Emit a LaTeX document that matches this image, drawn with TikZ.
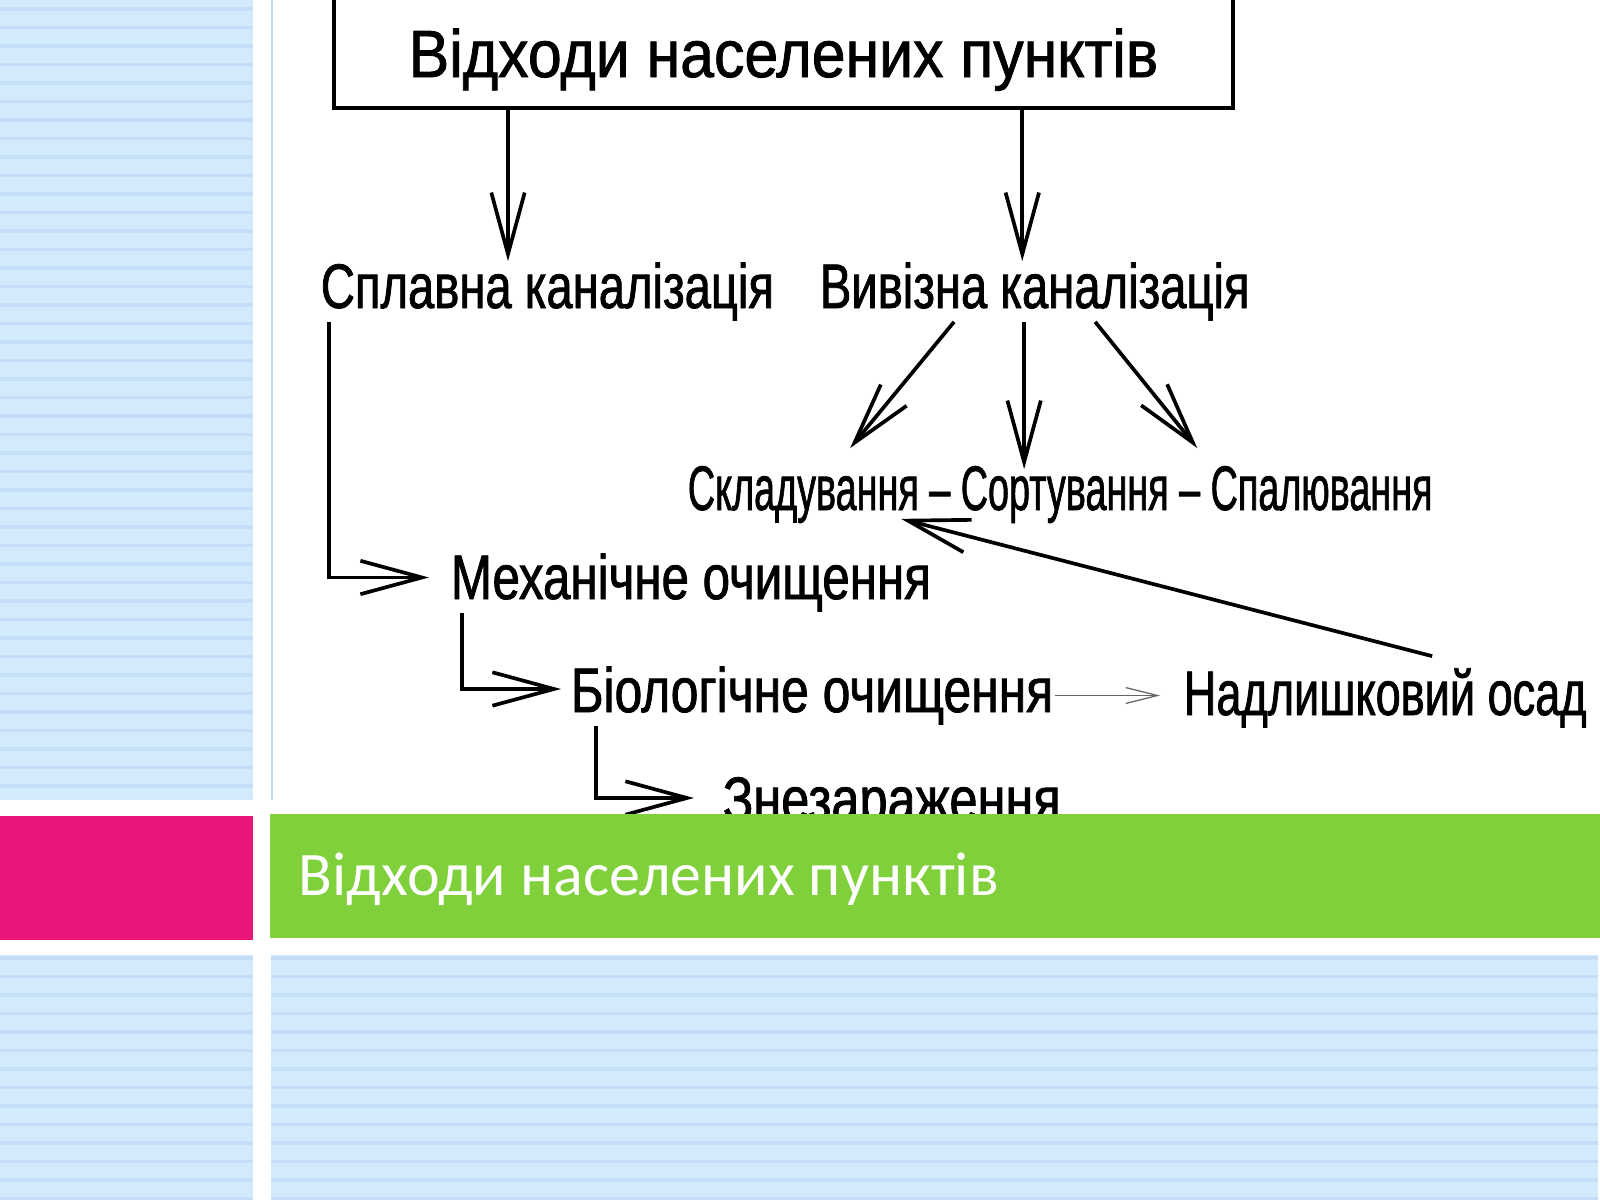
\documentclass[tikz,border=0pt]{standalone}
\usepackage{fontspec}
\setmainfont{Carlito}
\newfontfamily\gost[FakeStretch=0.75,FakeBold=1.2]{Liberation Sans}
\newfontfamily\gostwide[FakeStretch=0.91,FakeBold=1.2]{Liberation Sans}
\usetikzlibrary{arrows.meta}
\definecolor{panelblue}{HTML}{D3E9FC}
\definecolor{stripeblue}{HTML}{C3DEF6}
\definecolor{dividerblue}{HTML}{BCDBF3}
\definecolor{pinkbar}{HTML}{E9177A}
\definecolor{greenbar}{HTML}{80D03C}

\begin{document}
\begin{tikzpicture}[x=0.01cm,y=-0.01cm,
    line width=1.05pt,
    arr/.style={-{Straight Barb[length=17.5pt,width=9.5pt,line width=1.05pt]}},
    thinarr/.style={-{Straight Barb[length=9pt,width=4.5pt]},line width=0.35pt,black!60},
    stripe/.style={stripeblue,line width=1pt},
    lbl/.style={font=\gost\fontsize{17.9pt}{20pt}\selectfont,inner sep=0pt,
        text height=0.45cm,text depth=0.12cm,anchor=base west}]
    \useasboundingbox (0,0) rectangle (1600,1200);

    % slide background
    \fill[panelblue] (0,0) rectangle (253,800);
    \fill[panelblue] (0,955) rectangle (253,1200);
    \fill[panelblue] (271,955) rectangle (1598,1200);
    \foreach \y in {9,27.5,...,800} \draw[stripe] (0,\y) -- (253,\y);
    \foreach \y in {958,976.5,...,1200} \draw[stripe] (0,\y) -- (253,\y);
    \foreach \y in {958,976.5,...,1200} \draw[stripe] (271,\y) -- (1598,\y);
    \draw[dividerblue,line width=0.3pt] (272,0) -- (272,800);

    % scheme
    \node[draw,inner sep=0pt,minimum width=8.99cm,minimum height=1.18cm,
        text height=0.68cm,text depth=0.12cm,
        font=\gostwide\fontsize{19pt}{21pt}\selectfont] (box) at (783.5,49) {Відходи населених пунктів};
    \node[lbl] (splav) at (319,308) {Сплавна каналізація};
    \node[lbl] (vyviz) at (818,308) {Вивізна каналізація};
    \node[lbl] (steps) at (686,510) {\scalebox{0.8}[1]{Складування – Сортування – Спалювання}};
    \node[lbl] (mech) at (449,599) {\scalebox{1.045}[1]{Механічне очищення}};
    \node[lbl] (bio) at (569,712) {\scalebox{1.055}[1]{Біологічне очищення}};
    \node[lbl] (nadl) at (1182,715) {\scalebox{0.955}[1]{Надлишковий осад}};
    \node[lbl] (znez) at (721,821) {\scalebox{1.07}[1]{Знезараження}};

    \draw[arr] ([xshift=1.76cm]box.south west) coordinate (a1) -- (a1 |- splav.north);
    \draw[arr] ([xshift=6.9cm]box.south west) coordinate (a2) -- (a2 |- vyviz.north);
    \draw[arr] ([xshift=1.36cm]vyviz.south west) -- ([xshift=1.64cm,yshift=0.15cm]steps.north west);
    \draw[arr] ([xshift=2.06cm]vyviz.south west) coordinate (a3) -- ([yshift=-0.06cm]a3 |- steps.north);
    \draw[arr] ([xshift=2.77cm]vyviz.south west) -- ([xshift=5.11cm,yshift=0.15cm]steps.north west);
    \draw[arr] ([xshift=0.1cm]splav.south west) |- ([xshift=-0.2cm,yshift=0.05cm]mech.west);
    \draw[arr] ([xshift=0.13cm]mech.south west) |- ([xshift=-0.08cm,yshift=0.065cm]bio.west);
    \draw[arr] ([xshift=0.27cm]bio.south west) |- ([xshift=-0.27cm,yshift=0.065cm]znez.west);
    \draw[thinarr] (bio.east) -- ([xshift=-0.22cm]nadl.west |- bio.east);
    \draw[arr] ([xshift=2.5cm,yshift=0.12cm]nadl.north west) -- ([xshift=2.15cm,yshift=0.05cm]steps.south west);

    % title bar
    \fill[pinkbar] (0,816) rectangle (253,940);
    \fill[greenbar] (270,814) rectangle (1600,938);
    \node[font=\fontsize{17.6pt}{20pt}\selectfont,text=white,inner sep=0pt,anchor=base west] (title) at (297,895) {Відходи населених пунктів};
\end{tikzpicture}
\end{document}
